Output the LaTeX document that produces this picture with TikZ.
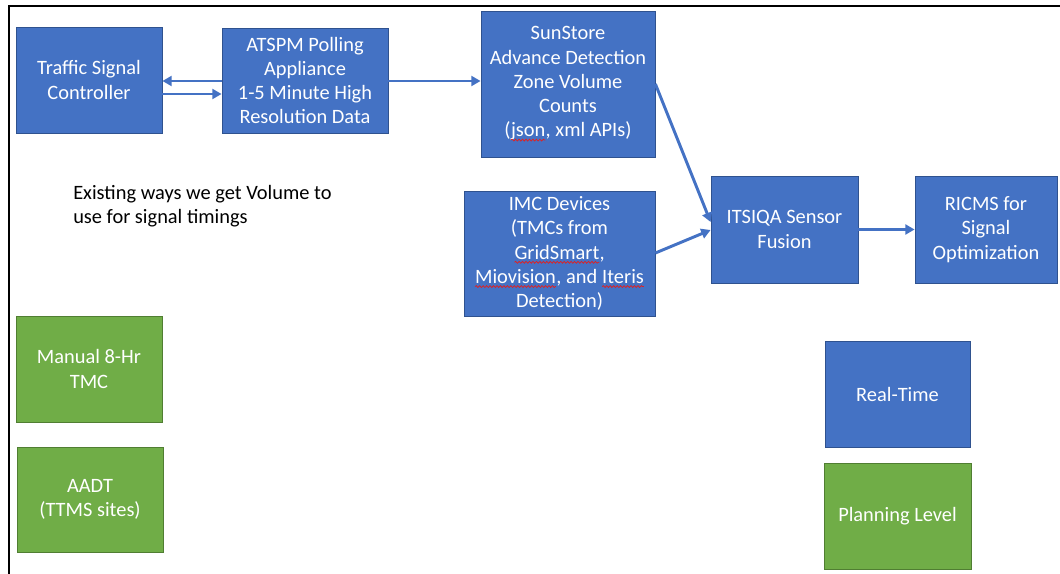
\documentclass[tikz,border=0pt]{standalone}
\usepackage{fontspec}
\setmainfont{Carlito}
\usetikzlibrary{arrows.meta,calc,decorations.pathmorphing}

\definecolor{boxblue}{HTML}{4472C4}
\definecolor{boxblueedge}{HTML}{2F528F}
\definecolor{boxgreen}{HTML}{70AD47}
\definecolor{boxgreenedge}{HTML}{507E32}
\definecolor{spellred}{HTML}{E02020}

% wavy red mark under a word
\newcommand\spellmark[1]{\tikz[baseline=(spw.base)]{%
  \node[rectangle, draw=none, fill=none, inner sep=0pt, outer sep=0pt,
        minimum width=0pt, minimum height=0pt] (spw) {#1};
  \draw[spellred, line width=0.55pt, decorate,
        decoration={snake, amplitude=0.7pt, segment length=2.6pt}]
    ([yshift=-2.4pt]spw.base west) -- ([yshift=-2.4pt]spw.base east);}}

\tikzset{
  bluebox/.style={rectangle, fill=boxblue, draw=boxblueedge, line width=0.6pt,
    text=white, align=center, inner sep=0pt,
    font=\fontsize{15.3}{18.2}\selectfont},
  greenbox/.style={bluebox, fill=boxgreen, draw=boxgreenedge},
  size/.style 2 args={minimum width=#1*0.75pt, minimum height=#2*0.75pt},
  flow/.style={draw=boxblue, line width=2.2pt,
    -{Triangle[length=7pt,width=7.5pt]}},
  frameline/.style={draw=black, line width=1.6pt},
}

\begin{document}
\begin{tikzpicture}[x=0.75pt,y=-0.75pt]
  \useasboundingbox (0,0) rectangle (1060,574);

  % page frame (left and top edges)
  \coordinate (fbl) at (9,574);
  \coordinate (ftl) at (9,6);
  \coordinate (ftr) at (1060,6);
  \draw[frameline] (fbl) -- (ftl) -- (ftr);

  % real-time chain
  \node[bluebox, size={146}{106}] (tsc) at (89,80)
    {Traffic Signal\\Controller};
  \node[bluebox, size={166}{105}] (atspm) at (305,80.5)
    {ATSPM Polling\\Appliance\\1-5 Minute High\\Resolution Data};
  \node[bluebox, size={174}{146}] (sun) at (568,84)
    {SunStore\\Advance Detection\\Zone Volume\\Counts\\(\spellmark{json}, xml APIs)};
  \node[bluebox, size={191}{125}] (imc) at (559.5,253.5)
    {IMC Devices\\(TMCs from\\\spellmark{GridSmart},\\\spellmark{Miovision}, and \spellmark{Iteris}\\Detection)};
  \node[bluebox, size={147}{107}] (its) at (784.5,229.5)
    {ITSIQA Sensor\\Fusion};
  \node[bluebox, size={142}{107}] (ricms) at (986,229.5)
    {RICMS for\\Signal\\Optimization};

  % planning-level sources
  \node[greenbox, size={146}{106}] (manual) at (89,369)
    {Manual 8-Hr\\TMC};
  \node[greenbox, size={146}{105}] (aadt) at (90,499.5)
    {AADT\\(TTMS sites)};

  % legend
  \node[bluebox, size={145}{106}] (rt) at (897.5,394)
    {Real-Time};
  \node[greenbox, size={147}{106}] (plan) at (897.5,516)
    {Planning Level};

  % note
  \node[anchor=west, align=left, inner sep=0pt, text=black,
        font=\fontsize{15.3}{18.2}\selectfont] (note) at (73,206)
    {Existing ways we get Volume to\\use for signal timings};

  % connectors
  \draw[flow] (atspm.west |- 0,81) -- (tsc.east |- 0,81);
  \draw[flow] (tsc.east |- 0,94) -- (atspm.west |- 0,94);
  \draw[flow] (atspm.east |- 0,81) -- (sun.west |- 0,81);
  \draw[flow] (sun.east |- 0,84) -- (its.west |- 0,222);
  \draw[flow] (imc.east |- 0,253) -- (its.west |- 0,230);
  \draw[flow] (its.east) -- (ricms.west);
\end{tikzpicture}
\end{document}
